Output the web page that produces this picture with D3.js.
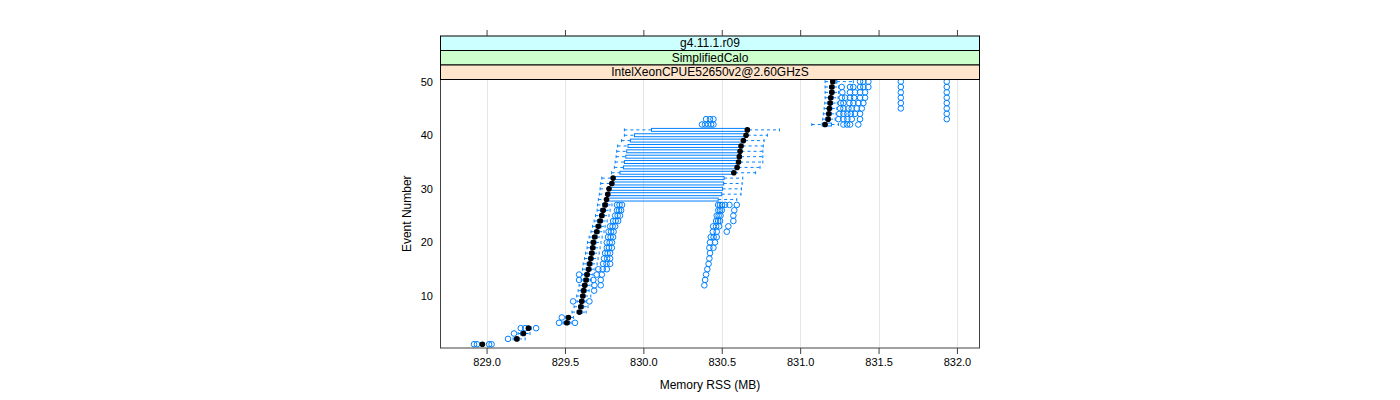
<!DOCTYPE html>
<html>
<head>
<meta charset="utf-8">
<script src="https://cdn.jsdelivr.net/npm/d3@7"></script>
<style>
  body { margin: 0; background: #fff; }
  svg text { font-family: "Liberation Sans", Arial, sans-serif; fill: #000; }
</style>
</head>
<body>
<svg width="1400" height="400"></svg>
<script>
// event numbers (y categories)
const events = [1, 2, 3, 4, 5, 6, 7, 8, 9, 10, 11, 12, 13, 14, 15, 16, 17, 18, 19, 20,
  21, 22, 23, 24, 25, 26, 27, 28, 29, 30, 31, 32, 33, 34, 35, 36, 37, 38, 39, 40,
  41, 42, 43, 44, 45, 46, 47, 48, 49, 50];

// box statistics per event, Memory RSS (MB)
const whiskerLo = [828.965, 829.169, 829.201, 829.258, 829.487, 829.507, 829.545, 829.558, 829.577, 829.575,
  829.584, 829.590, 829.603, 829.609, 829.612, 829.616, 829.625, 829.631, 829.641, 829.644,
  829.654, 829.666, 829.676, 829.686, 829.695, 829.705, 829.707, 829.713, 829.719, 829.724,
  829.728, 829.735, 829.797, 829.815, 829.820, 829.826, 829.830, 829.836, 829.861, 829.879,
  829.879, 831.074, 831.144, 831.148, 831.153, 831.157, 831.159, 831.159, 831.159, 831.159];
const q1 = [828.965, 829.179, 829.217, 829.258, 829.494, 829.507, 829.577, 829.587, 829.593, 829.600,
  829.603, 829.612, 829.619, 829.625, 829.635, 829.641, 829.651, 829.657, 829.663, 829.667,
  829.676, 829.689, 829.698, 829.708, 829.721, 829.727, 829.740, 829.756, 829.762, 829.772,
  829.788, 829.797, 829.851, 829.873, 829.880, 829.888, 829.894, 829.902, 829.917, 829.943,
  830.052, 831.140, 831.165, 831.170, 831.174, 831.178, 831.183, 831.188, 831.188, 831.197];
const median = [828.973, 829.193, 829.235, 829.267, 829.512, 829.522, 829.592, 829.601, 829.607, 829.614,
  829.619, 829.626, 829.635, 829.641, 829.651, 829.657, 829.665, 829.671, 829.677, 829.681,
  829.690, 829.703, 829.713, 829.724, 829.735, 829.743, 829.756, 829.765, 829.773, 829.781,
  829.799, 829.807, 830.577, 830.598, 830.607, 830.612, 830.617, 830.623, 830.638, 830.655,
  830.663, 831.159, 831.178, 831.183, 831.186, 831.191, 831.195, 831.202, 831.202, 831.208];
const q3 = [828.984, 829.207, 829.249, 829.284, 829.529, 829.533, 829.609, 829.619, 829.622, 829.628,
  829.635, 829.641, 829.651, 829.657, 829.667, 829.673, 829.679, 829.686, 829.692, 829.698,
  829.705, 829.718, 829.730, 829.740, 829.749, 829.759, 829.772, 830.477, 830.500, 830.505,
  830.512, 830.515, 830.585, 830.607, 830.617, 830.623, 830.626, 830.633, 830.649, 830.665,
  830.674, 831.200, 831.191, 831.197, 831.202, 831.207, 831.210, 831.216, 831.216, 831.234];
const whiskerHi = [828.984, 829.246, 829.277, 829.284, 829.539, 829.555, 829.635, 829.647, 829.635, 829.665,
  829.654, 829.667, 829.667, 829.679, 829.692, 829.705, 829.711, 829.718, 829.724, 829.730,
  829.737, 829.749, 829.756, 829.769, 829.781, 829.788, 829.800, 830.596, 830.623, 830.626,
  830.630, 830.634, 830.716, 830.744, 830.762, 830.762, 830.762, 830.765, 830.770, 830.791,
  830.868, 831.244, 831.223, 831.229, 831.234, 831.237, 831.242, 831.245, 831.245, 831.339];
const outliers = [
  [828.920, 828.939, 829.016, 829.032],
  [829.137],
  [829.175],
  [829.218, 829.246, 829.316],
  [829.462, 829.564],
  [829.480],
  [],
  [],
  [829.552, 829.656],
  [],
  [829.686],
  [829.688, 829.728, 830.389],
  [829.590, 829.681, 829.728, 830.394],
  [829.590, 829.703, 829.735, 830.400],
  [829.713, 829.741, 829.767, 830.408],
  [829.743, 829.765, 829.788, 830.416],
  [829.749, 829.769, 829.788, 830.421],
  [829.756, 829.772, 829.788, 830.425],
  [829.767, 829.781, 829.799, 830.421, 830.447],
  [829.767, 829.785, 829.800, 830.425, 830.457],
  [829.775, 829.791, 829.807, 830.430, 830.448, 830.468],
  [829.778, 829.794, 829.810, 830.443, 830.468, 830.532],
  [829.788, 829.804, 829.820, 830.445, 830.464, 830.483, 830.542],
  [829.807, 829.823, 829.839, 830.464, 830.477, 830.489, 830.574],
  [829.820, 829.836, 829.851, 830.468, 830.480, 830.492, 830.574],
  [829.832, 829.845, 829.858, 830.478, 830.489, 830.500, 830.580],
  [829.832, 829.848, 829.864, 830.477, 830.489, 830.502, 830.521, 830.549, 830.596],
  [], [], [], [], [], [], [], [], [], [], [], [], [], [],
  [830.374, 830.394, 830.413, 830.432, 830.447, 831.276, 831.299, 831.318, 831.371],
  [830.400, 830.425, 830.447, 831.244, 831.276, 831.301, 831.329, 831.382, 831.935],
  [831.250, 831.276, 831.301, 831.323, 831.350, 831.382, 831.935],
  [831.255, 831.276, 831.308, 831.329, 831.361, 831.393, 831.642, 831.935],
  [831.259, 831.276, 831.314, 831.339, 831.371, 831.403, 831.642, 831.935],
  [831.265, 831.287, 831.318, 831.344, 831.382, 831.414, 831.642, 831.935],
  [831.269, 831.318, 831.350, 831.382, 831.414, 831.642, 831.935],
  [831.265, 831.318, 831.339, 831.382, 831.403, 831.435, 831.642, 831.935],
  [831.382, 831.403, 831.435, 831.642, 831.935]
];

const xTicks = [829.0, 829.5, 830.0, 830.5, 831.0, 831.5, 832.0];
const yTicks = [10, 20, 30, 40, 50];
const xLimits = [828.703, 832.147];
const yLimits = [0.3, 50.4];
const strips = ['g4.11.1.r09', 'SimplifiedCalo', 'IntelXeonCPUE52650v2@2.60GHzS'];
const stripColors = ['#ccffff', '#ccffcc', '#ffe5cc'];

const svg = d3.select('svg');
const blue = '#0080ff';

const panel = { left: 440, right: 980, top: 79.5, bottom: 348 };
const stripH = 14.5;

const x = d3.scaleLinear().domain(xLimits).range([panel.left, panel.right]);
const y = d3.scaleLinear().domain(yLimits).range([panel.bottom, panel.top]);
const unit = y(1) - y(2);
const boxH = unit * 0.55;

// grid lines
svg.append('g')
  .selectAll('line')
  .data(xTicks)
  .enter()
  .append('line')
  .attr('x1', d => Math.round(x(d)) + 0.5)
  .attr('x2', d => Math.round(x(d)) + 0.5)
  .attr('y1', panel.top)
  .attr('y2', panel.bottom)
  .attr('stroke', '#e6e6e6');

const rows = events.map((e, i) => ({
  e, lo: whiskerLo[i], q1: q1[i], med: median[i], q3: q3[i], hi: whiskerHi[i], out: outliers[i]
}));

const g = svg.append('g');

// whiskers (dashed)
const whisk = g.append('g')
  .attr('stroke', blue)
  .attr('stroke-dasharray', '3,3')
  .attr('fill', 'none');
rows.forEach(d => {
  const cy = y(d.e);
  whisk.append('line').attr('x1', x(d.lo)).attr('x2', x(d.q1)).attr('y1', cy).attr('y2', cy);
  whisk.append('line').attr('x1', x(d.q3)).attr('x2', x(d.hi)).attr('y1', cy).attr('y2', cy);
});

// staples
g.append('g')
  .attr('stroke', blue)
  .selectAll('line')
  .data(rows.flatMap(d => [d.lo, d.hi].map(v => ({ v, e: d.e }))))
  .enter()
  .append('line')
  .attr('x1', d => x(d.v))
  .attr('x2', d => x(d.v))
  .attr('y1', d => y(d.e) - boxH / 2)
  .attr('y2', d => y(d.e) + boxH / 2);

// boxes
g.append('g')
  .selectAll('rect')
  .data(rows)
  .enter()
  .append('rect')
  .attr('x', d => x(d.q1))
  .attr('width', d => Math.max(0.5, x(d.q3) - x(d.q1)))
  .attr('y', d => y(d.e) - boxH / 2)
  .attr('height', boxH)
  .attr('fill', 'none')
  .attr('stroke', blue);

// outliers
g.append('g')
  .selectAll('circle')
  .data(rows.flatMap(d => d.out.map(v => ({ v, e: d.e }))))
  .enter()
  .append('circle')
  .attr('cx', d => x(d.v))
  .attr('cy', d => y(d.e))
  .attr('r', 2.8)
  .attr('fill', 'none')
  .attr('stroke', blue);

// medians
g.append('g')
  .selectAll('circle')
  .data(rows)
  .enter()
  .append('circle')
  .attr('cx', d => x(d.med))
  .attr('cy', d => y(d.e))
  .attr('r', 2.8)
  .attr('fill', '#000');

// panel border
svg.append('rect')
  .attr('x', panel.left + 0.5)
  .attr('y', panel.top)
  .attr('width', panel.right - panel.left - 1)
  .attr('height', panel.bottom - panel.top)
  .attr('fill', 'none')
  .attr('stroke', '#404040');

// strips (outermost factor at the bottom)
strips.forEach((s, i) => {
  const top = panel.top - (strips.length - i) * stripH;
  svg.append('rect')
    .attr('x', panel.left + 0.5)
    .attr('y', top)
    .attr('width', panel.right - panel.left - 1)
    .attr('height', stripH)
    .attr('fill', stripColors[i])
    .attr('stroke', '#000');
  svg.append('text')
    .attr('x', (panel.left + panel.right) / 2)
    .attr('y', top + stripH / 2 + 4.2)
    .attr('text-anchor', 'middle')
    .style('font-size', '12px')
    .text(s);
});

// bottom axis
const xAxisG = svg.append('g')
  .attr('transform', `translate(0,${panel.bottom})`)
  .call(d3.axisBottom(x).tickValues(xTicks).tickFormat(d3.format('.1f')).tickSize(6).tickPadding(4));
xAxisG.select('.domain').remove();
xAxisG.selectAll('text').style('font-size', '11px').attr('font-family', null);
xAxisG.selectAll('line').attr('stroke', '#404040');

// top ticks (no labels)
const topAxisG = svg.append('g')
  .attr('transform', `translate(0,${panel.top - strips.length * stripH})`)
  .call(d3.axisTop(x).tickValues(xTicks).tickFormat('').tickSize(6));
topAxisG.select('.domain').remove();
topAxisG.selectAll('line').attr('stroke', '#404040');

// left axis labels
const yAxisG = svg.append('g')
  .attr('transform', `translate(${panel.left},0)`)
  .call(d3.axisLeft(y).tickValues(yTicks).tickSize(0).tickPadding(7));
yAxisG.select('.domain').remove();
yAxisG.selectAll('text').style('font-size', '11px').attr('font-family', null);

// axis titles
svg.append('text')
  .attr('x', (panel.left + panel.right) / 2)
  .attr('y', 389)
  .attr('text-anchor', 'middle')
  .style('font-size', '12px')
  .text('Memory RSS (MB)');

svg.append('text')
  .attr('transform', `translate(411,${(panel.top + panel.bottom) / 2}) rotate(-90)`)
  .attr('text-anchor', 'middle')
  .style('font-size', '12px')
  .text('Event Number');
</script>
</body>
</html>
